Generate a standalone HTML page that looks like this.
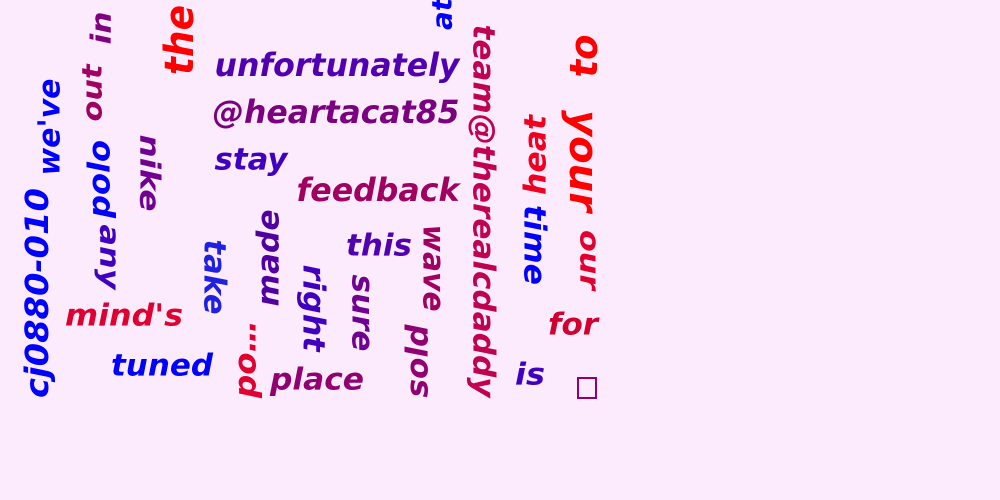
<!DOCTYPE html>
<html><head><meta charset="utf-8"><style>
html,body{margin:0;padding:0;background:#fcebfc;}
svg{display:block;}
text{font-family:"DejaVu Sans","Liberation Sans",sans-serif;font-weight:bold;font-style:oblique;}
</style></head><body>
<svg id="cloud" width="1000" height="500" viewBox="0 0 1000 500" xmlns="http://www.w3.org/2000/svg">
<rect width="1000" height="500" fill="#fcebfc"/>
<rect x="578" y="378" width="18" height="20" fill="none" stroke="#900070" stroke-width="2"/>
</svg>
<script>
// words: text, center x, center y, length along reading direction, font size, rotation, color
const words = ["unfortunately","@heartacat85","stay","feedback","this","mind's","tuned","place","is","for",
 "the","in","out","we've","polo","nike","any","cj0880-010","take","made","po\u2026","right","sure","wave","sold","at","team@therealcdaddy","heat","time","to","your","our"];
const cx = [337,336,251,378,379,124,162,317,530,573, 180,101,92,50,100,150,110,37,214,269,246,313,362,433,418,442,483,536,534,584,583,590];
const cy = [65,112,160,190,246,316,366,380,375,325, 40,28,93,127,179,173,257,293,277,258,359,308,313,268,361,14,211,155,245,56,161,260];
const lens = [245,247,73,163,66,118,102,94,30,50, 70,33,57,97,78,77,65,210,75,97,78,87,77,87,73,32,373,80,80,43,102,60];
const sizes = [32,32,30,32,30,30,30,30,30,30, 40,28,28,30,30,28,28,32,30,30,30,30,30,30,30,28,30,30,30,38,40,28];
const rots = [0,0,0,0,0,0,0,0,0,0, -90,-90,-90,-90,-90,90,90,-90,90,-90,-90,90,90,90,-90,-90,90,-90,90,-90,90,90];
const colors = ["#5000b0","#7a007f","#4000c0","#a00060","#5000b0","#e00030","#0000ff","#900070","#4000c0","#d00030",
 "#ff0000","#800080","#a00060","#0000ff","#0000ff","#700090","#4000c0","#0000ff","#2020e0","#5000a0","#e00030","#4000c0","#700090","#a00060","#900070","#0000ff","#c00050","#f00020","#0000ff","#ff0000","#ff0000","#e00030"];
const svg = document.getElementById('cloud');
const NS = "http://www.w3.org/2000/svg";
for (let i = 0; i < words.length; i++) {
  const t = document.createElementNS(NS, 'text');
  
  
  t.setAttribute('text-anchor', 'middle');
  t.setAttribute('dominant-baseline', 'central');
  t.setAttribute('font-size', sizes[i]);
  t.setAttribute('fill', colors[i]);
  t.setAttribute('textLength', lens[i]);
  t.setAttribute('lengthAdjust', 'spacingAndGlyphs');
  t.setAttribute('transform', 'translate(' + cx[i] + ',' + cy[i] + ') rotate(' + rots[i] + ')');
  t.textContent = words[i];
  svg.appendChild(t);
}
</script>
</body></html>
